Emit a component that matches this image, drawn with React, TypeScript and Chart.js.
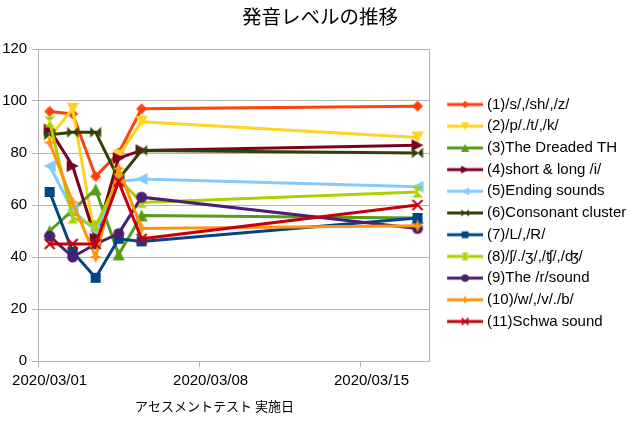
import React, { useEffect, useRef } from 'react';
import { Chart, registerables } from 'chart.js';

Chart.register(...registerables);

// ---- data ----
const testDates = ['2020/03/01', '2020/03/02', '2020/03/03', '2020/03/04', '2020/03/05', '2020/03/17'];
const xTickLabels = ['2020/03/01', '2020/03/08', '2020/03/15'];
const axisStart = '2020/03/01';
const axisEnd = '2020/03/18';
const yMin = 0;
const yMax = 120;
const yStep = 20;

const chartTitle = '発音レベルの推移';
const xAxisTitle = 'アセスメントテスト 実施日';

const seriesNames = [
  '(1)/s/,/sh/,/z/',
  '(2)/p/./t/,/k/',
  '(3)The Dreaded TH',
  '(4)short & long /i/',
  '(5)Ending sounds',
  '(6)Consonant cluster',
  '(7)/L/,/R/',
  '(8)/ʃ/./ʒ/,/ʧ/,/ʤ/',
  '(9)The /r/sound',
  '(10)/w/,/v/./b/',
  '(11)Schwa sound',
];

const s1 = [96, 95, 71, 80, 97, 98];
const s2 = [86, 97, 46, 79, 92, 86];
const s3 = [50, 58, 66, 41, 56, 55];
const s4 = [89, 75, 47, 78, 81, 83];
const s5 = [75, 58, 50, 69, 70, 67];
const s6 = [87, 88, 88, 70, 81, 80];
const s7 = [65, 42, 32, 47, 46, 55];
const s8 = [92, 55, 52, 70, 61, 65];
const s9 = [48, 40, 45, 49, 63, 51];
const s10 = [84, 61, 40, 74, 51, 52];
const s11 = [45, 45, 45, 69, 47, 60];

const seriesValues = [s1, s2, s3, s4, s5, s6, s7, s8, s9, s10, s11];

const seriesColors = [
  '#ff420e', '#ffd320', '#579d1c', '#7e0021', '#83caff', '#314004',
  '#004586', '#aecf00', '#4b1f6f', '#ff950e', '#c5000b',
];

type Marker = 'diamond' | 'triDown' | 'triUp' | 'triRight' | 'triLeft' | 'bowtie' | 'square' | 'hourglass' | 'circle' | 'star' | 'x';
const seriesMarkers: Marker[] = [
  'diamond', 'triDown', 'triUp', 'triRight', 'triLeft', 'bowtie',
  'square', 'hourglass', 'circle', 'star', 'x',
];

// ---- helpers ----
const parseDay = (d: string) => {
  const [y, m, dd] = d.split('/').map(Number);
  return Date.UTC(y, m - 1, dd);
};
const DAY = 86400000;
const dayIndex = (d: string) => (parseDay(d) - parseDay(axisStart)) / DAY;
const fmtDay = (v: number) => {
  const dt = new Date(parseDay(axisStart) + Math.floor(v) * DAY);
  const p = (n: number) => String(n).padStart(2, '0');
  return `${dt.getUTCFullYear()}/${p(dt.getUTCMonth() + 1)}/${p(dt.getUTCDate())}`;
};

const markerRadius: Record<Marker, number> = {
  diamond: 5.5, triDown: 6, triUp: 6, triRight: 6, triLeft: 6, bowtie: 5.5,
  square: 5, hourglass: 5.5, circle: 5.5, star: 6.5, x: 5,
};

function drawMarker(ctx: CanvasRenderingContext2D, type: Marker, cx: number, cy: number, r: number, color: string) {
  ctx.fillStyle = color;
  ctx.strokeStyle = color;
  const poly = (pts: number[][]) => {
    ctx.beginPath();
    pts.forEach(([x, y], i) => (i ? ctx.lineTo(x, y) : ctx.moveTo(x, y)));
    ctx.closePath();
    ctx.fill();
  };
  switch (type) {
    case 'diamond':
      poly([[cx, cy - r], [cx + r, cy], [cx, cy + r], [cx - r, cy]]);
      break;
    case 'triDown':
      poly([[cx - r, cy - r], [cx + r, cy - r], [cx, cy + r]]);
      break;
    case 'triUp':
      poly([[cx - r, cy + r], [cx + r, cy + r], [cx, cy - r]]);
      break;
    case 'triRight':
      poly([[cx - r, cy - r], [cx - r, cy + r], [cx + r, cy]]);
      break;
    case 'triLeft':
      poly([[cx + r, cy - r], [cx + r, cy + r], [cx - r, cy]]);
      break;
    case 'bowtie':
      poly([[cx - r, cy - r], [cx - r, cy + r], [cx, cy]]);
      poly([[cx + r, cy - r], [cx + r, cy + r], [cx, cy]]);
      break;
    case 'hourglass':
      poly([[cx - r, cy - r], [cx + r, cy - r], [cx, cy]]);
      poly([[cx - r, cy + r], [cx + r, cy + r], [cx, cy]]);
      break;
    case 'square':
      ctx.fillRect(cx - r, cy - r, 2 * r, 2 * r);
      break;
    case 'circle':
      ctx.beginPath();
      ctx.arc(cx, cy, r, 0, Math.PI * 2);
      ctx.fill();
      break;
    case 'star': {
      const k = r * 0.28;
      poly([[cx, cy - r], [cx + k, cy - k], [cx + r, cy], [cx + k, cy + k], [cx, cy + r], [cx - k, cy + k], [cx - r, cy], [cx - k, cy - k]]);
      break;
    }
    case 'x':
      ctx.lineWidth = Math.max(1.5, r * 0.4);
      ctx.beginPath();
      ctx.moveTo(cx - r, cy - r);
      ctx.lineTo(cx + r, cy + r);
      ctx.moveTo(cx + r, cy - r);
      ctx.lineTo(cx - r, cy + r);
      ctx.stroke();
      break;
  }
}

function makePointIcon(type: Marker, color: string) {
  const c = document.createElement('canvas');
  c.width = 16;
  c.height = 16;
  const ctx = c.getContext('2d')!;
  drawMarker(ctx, type, 8, 8, markerRadius[type], color);
  return c;
}

function makeLegendIcon(type: Marker, color: string) {
  const c = document.createElement('canvas');
  c.width = 51;
  c.height = 16;
  const ctx = c.getContext('2d')!;
  ctx.strokeStyle = color;
  ctx.lineWidth = 3;
  ctx.beginPath();
  ctx.moveTo(15, 8);
  ctx.lineTo(51, 8);
  ctx.stroke();
  drawMarker(ctx, type, 33, 8, markerRadius[type] * 0.68, color);
  return c;
}

const FONT = "'Liberation Sans', 'DejaVu Sans', 'Noto Sans CJK JP', sans-serif";
const CJK = "'Noto Sans CJK JP', 'Liberation Sans', sans-serif";
const GRID = '#b3b3b3';

export default function App() {
  const ref = useRef<HTMLCanvasElement | null>(null);

  useEffect(() => {
    document.body.style.margin = '0';
    const canvas = ref.current;
    if (!canvas) return;

    const legendIcons = seriesMarkers.map((m, i) => makeLegendIcon(m, seriesColors[i]));

    const datasets = seriesValues.map((vals, i) => ({
      label: seriesNames[i],
      data: vals.map((v, j) => ({ x: dayIndex(testDates[j]) + 0.5, y: v })),
      borderColor: seriesColors[i],
      backgroundColor: seriesColors[i],
      borderWidth: 3,
      pointStyle: makePointIcon(seriesMarkers[i], seriesColors[i]) as any,
      pointRadius: 6,
      tension: 0,
      order: seriesValues.length - i,
    }));

    const legendWidthPlugin = {
      id: 'legendWidth',
      beforeInit(chart: any) {
        if (chart.legend) {
          const orig = chart.legend.fit;
          chart.legend.fit = function () {
            orig.call(this);
            this.width = 211;
          };
        }
      },
    };

    const framePlugin = {
      id: 'areaFrame',
      beforeDatasetsDraw(chart: any) {
        const { ctx, chartArea } = chart;
        const xs = chart.scales.x;
        ctx.save();
        ctx.strokeStyle = GRID;
        ctx.lineWidth = 1;
        const xr = Math.round(chartArea.right) + 0.5;
        ctx.beginPath();
        ctx.moveTo(xr, chartArea.top);
        ctx.lineTo(xr, chartArea.bottom);
        // day-boundary tick marks below the x axis
        xTickLabels.forEach((l) => {
          const px = Math.round(xs.getPixelForValue(dayIndex(l))) + 0.5;
          ctx.moveTo(px, chartArea.bottom);
          ctx.lineTo(px, chartArea.bottom + 6);
        });
        ctx.stroke();
        ctx.restore();
      },
      afterDraw(chart: any) {
        // x-axis title, centred under the whole diagram (axis labels included)
        const { ctx, chartArea } = chart;
        ctx.save();
        ctx.fillStyle = '#000';
        ctx.font = `13px ${CJK}`;
        ctx.textAlign = 'center';
        ctx.textBaseline = 'middle';
        ctx.fillText(xAxisTitle, chartArea.right / 2, chartArea.bottom + 45);
        ctx.restore();
      },
    };

    const chart = new Chart(canvas, {
      type: 'line',
      data: { datasets: datasets as any },
      plugins: [legendWidthPlugin, framePlugin],
      options: {
        responsive: false,
        animation: false,
        events: [],
        layout: { padding: { left: 0, right: 0, top: 0, bottom: 2 } },
        plugins: {
          tooltip: { enabled: false },
          title: {
            display: true,
            text: chartTitle,
            color: '#000',
            font: { family: CJK, size: 19.5, weight: 'normal' as any },
            padding: { top: 5, bottom: 20.6 },
          },
          legend: {
            display: true,
            position: 'right',
            align: 'center',
            labels: {
              usePointStyle: true,
              pointStyleWidth: 43.8,
              padding: 6.7,
              color: '#000',
              font: { family: FONT, size: 15 },
              generateLabels: (ch: any) =>
                ch.data.datasets.map((ds: any, i: number) => ({
                  text: ds.label,
                  pointStyle: legendIcons[i],
                  fillStyle: ds.borderColor,
                  strokeStyle: ds.borderColor,
                  lineWidth: 0,
                  hidden: false,
                  datasetIndex: i,
                  fontColor: '#000',
                })),
            },
          },
        },
        scales: {
          x: {
            type: 'linear',
            min: dayIndex(axisStart),
            max: dayIndex(axisEnd),
            afterBuildTicks: (s: any) => {
              // labels centred within their day
              s.ticks = xTickLabels.map((l) => ({ value: dayIndex(l) + 0.5 }));
            },
            afterFit: (s: any) => {
              s.height = 65;
            },
            ticks: {
              callback: (v: any) => fmtDay(Number(v)),
              color: '#000',
              font: { family: FONT, size: 15 },
              padding: 11,
              maxRotation: 0,
              autoSkip: false,
            },
            grid: { drawOnChartArea: false, drawTicks: false, color: GRID },
            border: { color: GRID },
          },
          y: {
            type: 'linear',
            min: yMin,
            max: yMax,
            afterFit: (s: any) => {
              s.width = 38;
            },
            ticks: {
              stepSize: yStep,
              color: '#000',
              font: { family: FONT, size: 15 },
              padding: 5,
            },
            grid: { color: GRID, tickLength: 6 },
            border: { color: GRID },
          },
        },
      },
    });

    return () => chart.destroy();
  }, []);

  return (
    <div style={{ width: 640, height: 428, background: '#fff' }}>
      <canvas ref={ref} width={640} height={428} />
    </div>
  );
}
